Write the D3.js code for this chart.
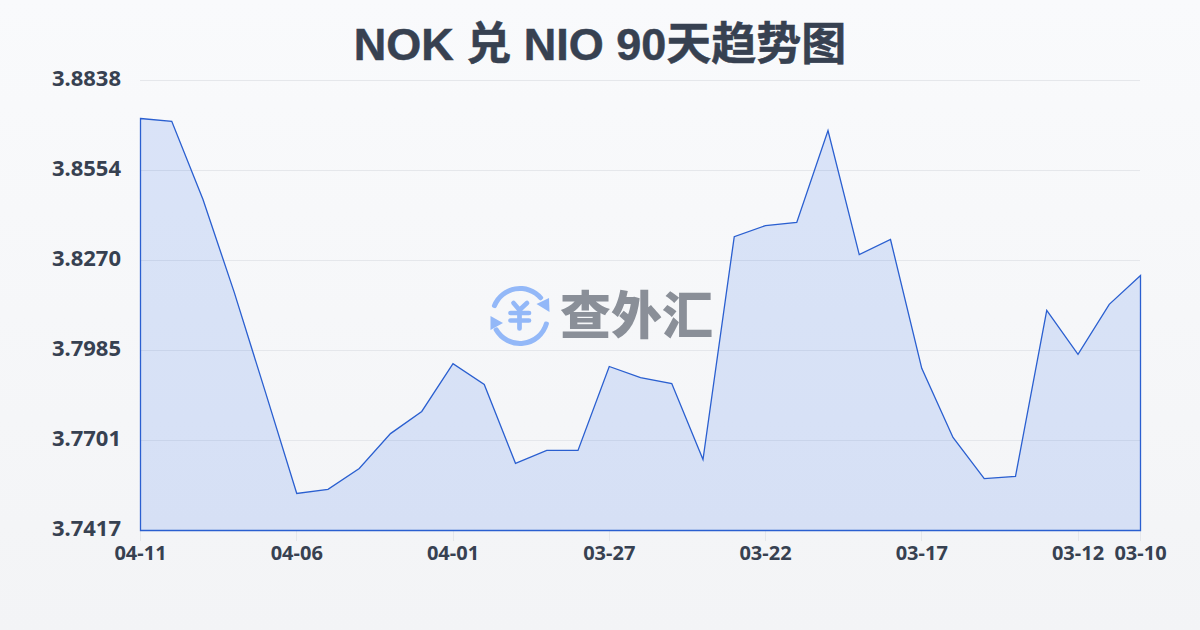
<!DOCTYPE html>
<html><head><meta charset="utf-8">
<script src="https://cdn.jsdelivr.net/npm/d3@7"></script>
<style>html,body{margin:0;padding:0;background:#f5f6f8}svg{display:block}text{font-family:"Noto Sans","Noto Sans CJK SC",sans-serif}</style>
</head><body><svg id="c" width="1200" height="630"></svg>
<script>
const titleText = "NOK 兑 NIO 90天趋势图";
const dates = ["04-11","04-10","04-09","04-08","04-07","04-06","04-05","04-04","04-03","04-02","04-01","03-31","03-30","03-29","03-28","03-27","03-26","03-25","03-24","03-23","03-22","03-21","03-20","03-19","03-18","03-17","03-16","03-15","03-14","03-13","03-12","03-11","03-10"];
const values = [3.8718,3.8709,3.8462,3.8169,3.7853,3.7534,3.7547,3.7613,3.7723,3.7793,3.7944,3.7878,3.7629,3.7670,3.7670,3.7935,3.7900,3.7881,3.7641,3.8345,3.8380,3.8390,3.8680,3.8288,3.8336,3.7929,3.7711,3.7581,3.7588,3.8112,3.7973,3.8131,3.8222];
const yTicks = [3.8838,3.8554,3.8270,3.7985,3.7701,3.7417];
const xTicks = ["04-11","04-06","04-01","03-27","03-22","03-17","03-12","03-10"];

const svg = d3.select("#c");
const defs = svg.append("defs");
const bg = defs.append("linearGradient").attr("id","bg").attr("x1",0).attr("y1",0).attr("x2",0).attr("y2",1);
bg.append("stop").attr("offset",0).attr("stop-color","#f9fafc");
bg.append("stop").attr("offset",1).attr("stop-color","#f3f4f6");
svg.append("rect").attr("width",1200).attr("height",630).attr("fill","url(#bg)");

const x = d3.scalePoint().domain(dates).range([140.5,1140.5]);
const y = d3.scaleLinear().domain([3.7417,3.8838]).range([530.5,80.5]);

svg.append("text").attr("x",600).attr("y",60).attr("text-anchor","middle")
  .attr("font-size",45).attr("font-weight",700).attr("fill","#374151")
  .attr("stroke","#374151").attr("stroke-width",0.5)
  .style("font-family",'"Liberation Sans","Noto Sans CJK SC",sans-serif').text(titleText);

// grid
svg.append("g").selectAll("line").data(yTicks.slice(0,-1)).join("line")
  .attr("x1",140).attr("x2",1140).attr("y1",d=>Math.floor(y(d))+.5).attr("y2",d=>Math.floor(y(d))+.5)
  .attr("stroke","#e5e7eb").attr("stroke-width",1);

// y labels
svg.append("g").selectAll("text").data(yTicks).join("text")
  .attr("x",121).attr("y",d=>y(d)+5.5).attr("text-anchor","end")
  .attr("font-size",22).attr("font-weight",700).attr("fill","#374151")
  .text(d=>d.toFixed(4));

// x ticks
svg.append("g").selectAll("line").data(xTicks).join("line")
  .attr("x1",d=>Math.floor(x(d))+.5).attr("x2",d=>Math.floor(x(d))+.5).attr("y1",531).attr("y2",541)
  .attr("stroke","#e5e7eb").attr("stroke-width",1);
svg.append("g").selectAll("text").data(xTicks).join("text")
  .attr("x",d=>x(d)).attr("y",560).attr("text-anchor","middle")
  .attr("font-size",20).attr("font-weight",700).attr("fill","#374151")
  .text(d=>d);

// watermark
const wm = svg.append("g");
const blue = "#93b8f8";
const cx = 520, cy = 316, r = 27.5;
const arc = d3.arc().innerRadius(r-2.5).outerRadius(r+2.5).cornerRadius(2);
wm.append("path").attr("transform",`translate(${cx},${cy})`).attr("fill",blue)
  .attr("d",arc({startAngle:-1.27,endAngle:0.93}));
wm.append("path").attr("transform",`translate(${cx},${cy})`).attr("fill",blue)
  .attr("d",arc({startAngle:1.78,endAngle:4.27}));
wm.append("path").attr("fill",blue).attr("d","M549 298L549.5 312L536.5 304Z");
wm.append("path").attr("fill",blue).attr("d","M490.5 316L490.5 330L503 323Z");
wm.append("path").attr("fill","none").attr("stroke",blue).attr("stroke-width",4.7).attr("stroke-linecap","round").attr("stroke-linejoin","round")
  .attr("d","M513.5 303L519.5 310L527 303M510.5 313H529M510.5 320.5H529M519.5 310V328.5");
wm.append("text").attr("x",560).attr("y",334).attr("font-size",51).attr("font-weight",900)
  .attr("fill","#8a8f98").style("font-family",'"Noto Sans CJK SC",sans-serif').text("查外汇");

// area
const area = d3.area().x((d,i)=>x(dates[i])).y0(y(3.7417)).y1(d=>y(d));
svg.append("path").datum(values).attr("d",area)
  .attr("fill","#2563eb").attr("fill-opacity",.14)
  .attr("stroke","#2a5fd0").attr("stroke-width",1.3);
</script></body></html>
